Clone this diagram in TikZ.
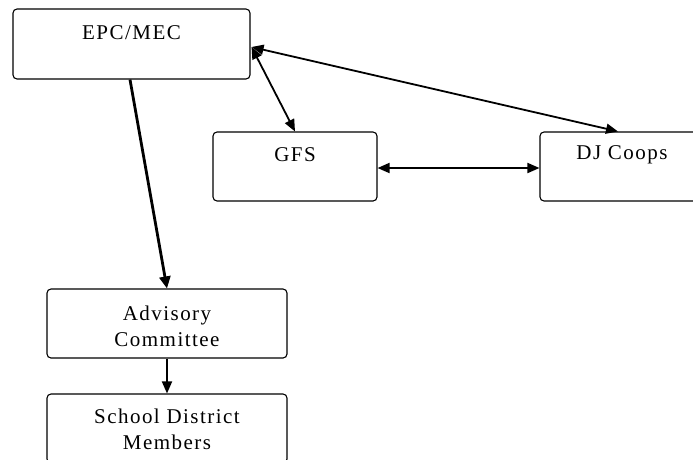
\documentclass[tikz,border=0pt]{standalone}
\usepackage{fontspec}
\setmainfont{Liberation Serif}[LetterSpace=7]
\usetikzlibrary{arrows.meta,calc}
\begin{document}
\begin{tikzpicture}[x=1pt,y=-1pt,
  box/.style={draw=black, line width=1.1pt, rounded corners=4pt, fill=white, inner sep=0pt},
  txt/.style={inner sep=0pt, align=center, font=\fontsize{21}{26}\selectfont},
  link/.style={line width=1.8pt, -{Triangle[length=12pt,width=10pt]}},
  both/.style={line width=1.8pt, {Triangle[length=12pt,width=10pt]}-{Triangle[length=12pt,width=10pt]}},
  heavy/.style={line width=2.8pt, -{Triangle[length=12pt,width=11pt]}}
]
\useasboundingbox (0,0) rectangle (693,459);
\clip (0,0) rectangle (693,459);
\fill[white] (0,0) rectangle (693,459);

\node[box, minimum width=237pt, minimum height=70pt] (epc) at (131.5,44) {};
\node[txt] (epct) at (131.5,33) {EPC/MEC};

\node[box, minimum width=164pt, minimum height=69pt] (gfs) at (295,166.5) {};
\node[txt] (gfst) at (295,155) {GFS};

\node[box, minimum width=170pt, minimum height=69pt] (dj) at (625,166.5) {};
\node[txt] (djt) at (622,155) {DJ Coops};

\node[box, minimum width=240pt, minimum height=69pt] (adv) at (167,323.5) {};
\node[txt] (advt) at (167,326) {Advisory\\Committee};

\node[box, minimum width=240pt, minimum height=69pt] (sch) at (167,428.5) {};
\node[txt] (scht) at (167,429.5) {School District\\Members};

\coordinate (ep) at ($(epc.east)+(1,3)$);
\draw[heavy] ($(epc.south)+(-1.5,0)$) -- (adv.north);
\draw[both] (ep) -- (gfs.north);
\draw[both] (ep) -- ($(dj.north)+(-7,0)$);
\draw[both] ($(gfs.east)+(0,1.5)$) -- ($(dj.west)+(0,1.5)$);
\draw[link] (adv.south) -- (sch.north);
\end{tikzpicture}
\end{document}
